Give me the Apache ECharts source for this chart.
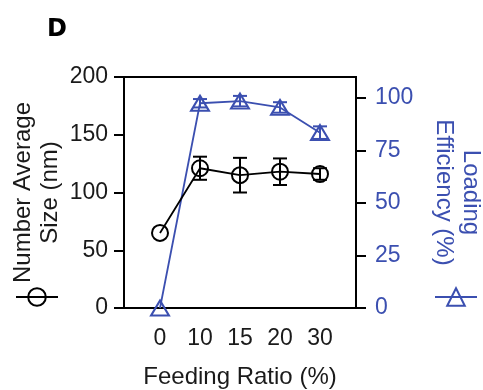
<!DOCTYPE html>
<html><head><meta charset="utf-8">
<script src="https://cdn.jsdelivr.net/npm/echarts@6/dist/echarts.min.js"></script>
<style>html,body{margin:0;padding:0;background:#fff}#c{width:483px;height:390px}</style>
</head><body><div id="c"></div>
<script>
const categories = ['0', '10', '15', '20', '30'];
const sizeValues = [65, 121, 115, 118, 116];
const sizeErrors = [0, 10, 15, 11.5, 5];
const effValues = [0, 97.5, 98.5, 95.5, 83.5];
const effErrors = [0, 2, 2.5, 2.5, 3];
const leftTicks = [0, 50, 100, 150, 200];
const rightTicks = [0, 25, 50, 75, 100];

const BLUE = '#3b4fb0';
const FONT = 'Liberation Sans';

const xIdx = categories.map((c, i) => i);
const sizeData = xIdx.map(i => [i, sizeValues[i]]);
const effData = xIdx.map(i => [i, effValues[i]]);
const sizeErr = xIdx.map(i => [i, sizeValues[i] - sizeErrors[i], sizeValues[i] + sizeErrors[i]]);
const effErr = xIdx.map(i => [i, effValues[i] - effErrors[i], effValues[i] + effErrors[i]]);

function errRender(color) {
  return function (params, api) {
    const x = api.value(0), lo = api.value(1), hi = api.value(2);
    if (!(hi - lo > 0)) return null;
    const p1 = api.coord([x, hi]), p2 = api.coord([x, lo]);
    const w = 7;
    const style = { stroke: color, lineWidth: 2, fill: null };
    return {
      type: 'group', children: [
        { type: 'line', shape: { x1: p1[0], y1: p1[1], x2: p2[0], y2: p2[1] }, style },
        { type: 'line', shape: { x1: p1[0] - w, y1: p1[1], x2: p1[0] + w, y2: p1[1] }, style },
        { type: 'line', shape: { x1: p2[0] - w, y1: p2[1], x2: p2[0] + w, y2: p2[1] }, style }
      ]
    };
  };
}

const chart = echarts.init(document.getElementById('c'), null, { renderer: 'canvas' });
chart.setOption({
  animation: false,
  backgroundColor: '#fff',
  textStyle: { fontFamily: FONT },
  title: {
    text: 'D', left: 47, top: 18, padding: 0,
    textStyle: { fontFamily: 'DejaVu Sans', fontSize: 24, fontWeight: 'bold', color: '#000' }
  },
  legend: [
    {
      data: ['Number Average Size'], left: 15, top: 286, padding: 0,
      itemWidth: 42, itemHeight: 22, formatter: () => '', selectedMode: false,
      textStyle: { fontSize: 1 }, lineStyle: { width: 2 }
    },
    {
      data: ['Loading Efficiency'], left: 434, top: 286, padding: 0,
      itemWidth: 42, itemHeight: 22, formatter: () => '', selectedMode: false,
      textStyle: { fontSize: 1 }, lineStyle: { width: 2 }
    }
  ],
  grid: {
    left: 124, right: 127, top: 77, bottom: 82, show: true,
    containLabel: false, outerBoundsMode: 'none',
    borderColor: '#000', borderWidth: 2, backgroundColor: 'transparent'
  },
  xAxis: {
    type: 'value', min: -0.9, max: 4.9,
    name: 'Feeding Ratio (%)', nameLocation: 'middle', nameGap: 57,
    nameTextStyle: { fontFamily: FONT, fontSize: 24, color: '#1a1a1a' },
    axisLine: { show: true, onZero: false, lineStyle: { color: '#000', width: 2 } },
    axisTick: { show: false },
    splitLine: { show: false },
    axisLabel: {
      customValues: xIdx,
      formatter: v => categories[Math.round(v)],
      margin: 19, fontSize: 23, color: '#1a1a1a', fontFamily: FONT
    }
  },
  yAxis: [
    {
      type: 'value', min: 0, max: 200, interval: 50, position: 'left',
      name: 'Number Average\nSize (nm)', nameLocation: 'middle', nameRotate: 90, nameGap: 60,
      nameTextStyle: { fontFamily: FONT, fontSize: 24, lineHeight: 27, color: '#1a1a1a' },
      axisLine: { show: true, onZero: false, lineStyle: { color: '#000', width: 2 } },
      axisTick: { show: true, length: 10, lineStyle: { color: '#000', width: 2 }, customValues: leftTicks },
      axisLabel: { customValues: leftTicks, margin: 16, fontSize: 23, color: '#1a1a1a', fontFamily: FONT },
      splitLine: { show: false }
    },
    {
      type: 'value', min: 0, max: 110, position: 'right',
      name: 'Loading\nEfficiency (%)', nameLocation: 'middle', nameRotate: -90, nameGap: 74,
      nameTextStyle: { fontFamily: FONT, fontSize: 24, lineHeight: 27, color: BLUE },
      axisLine: { show: true, onZero: false, lineStyle: { color: '#000', width: 2 } },
      axisTick: { show: true, length: 10, lineStyle: { color: '#000', width: 2 }, customValues: rightTicks },
      axisLabel: { customValues: rightTicks, margin: 19, fontSize: 23, color: BLUE, fontFamily: FONT },
      splitLine: { show: false }
    }
  ],
  series: [
    {
      name: 'Loading Efficiency', type: 'line', yAxisIndex: 1, data: effData,
      symbol: 'triangle', symbolSize: [18, 15], clip: false, z: 3,
      lineStyle: { color: BLUE, width: 1.8 },
      itemStyle: { color: 'rgba(255,255,255,0)', borderColor: BLUE, borderWidth: 2 }
    },
    {
      name: 'effErr', type: 'custom', yAxisIndex: 1, data: effErr,
      encode: { x: 0, y: [1, 2] }, renderItem: errRender(BLUE), z: 4
    },
    {
      name: 'Number Average Size', type: 'line', yAxisIndex: 0, data: sizeData,
      symbol: 'circle', symbolSize: 16, clip: false, z: 5,
      lineStyle: { color: '#000', width: 1.8 },
      itemStyle: { color: 'rgba(255,255,255,0)', borderColor: '#000', borderWidth: 2 }
    },
    {
      name: 'sizeErr', type: 'custom', yAxisIndex: 0, data: sizeErr,
      encode: { x: 0, y: [1, 2] }, renderItem: errRender('#000'), z: 6
    }
  ]
});
</script>
</body></html>
